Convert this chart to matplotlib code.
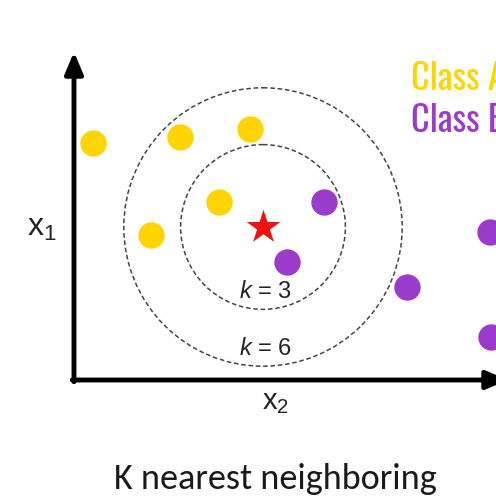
import numpy as np
import matplotlib.pyplot as plt
from matplotlib.patches import Circle

plt.rcParams['mathtext.fontset'] = 'custom'
plt.rcParams['mathtext.rm'] = 'Liberation Sans'
plt.rcParams['mathtext.it'] = 'Liberation Sans:italic'

# data (pixel-like units of the drawing)
class_a_x = [93, 180, 250, 219, 151]
class_a_y = [143, 137, 129, 202, 235]
class_b_x = [324, 287, 407, 490, 491]
class_b_y = [202, 262, 287, 232, 337]
query = (263, 227)
k_values = [3, 6]
legend_labels = ['Class A', 'Class B']

yellow = '#FFD400'
purple = '#9A3BCB'

fig = plt.figure(figsize=(4.96, 4.99), dpi=100)
ax = fig.add_axes([0, 0, 1, 1])
ax.set_xlim(0, 496)
ax.set_ylim(499, 0)
ax.axis('off')

# axes with arrows
arrow = dict(arrowstyle='-|>,head_length=1.3,head_width=0.55',
             lw=3.5, color='black', shrinkA=0, shrinkB=0)
ax.annotate('', xy=(74, 52), xytext=(74, 381.7), arrowprops=arrow,
            annotation_clip=False)
ax.annotate('', xy=(508, 380), xytext=(72.3, 380), arrowprops=arrow,
            annotation_clip=False)

# k-neighbourhood circles: radius between k-th and (k+1)-th nearest point
pts = np.column_stack([class_a_x + class_b_x, class_a_y + class_b_y])
d = np.sort(np.hypot(pts[:, 0] - query[0], pts[:, 1] - query[1]))
for k in k_values:
    r = (d[k - 1] + d[k]) / 2
    ax.add_patch(Circle(query, r, fill=False, ec='#444444', lw=1.1,
                        ls=(0, (3, 1.8))))

ax.scatter(class_a_x, class_a_y, s=360, color=yellow, lw=0, zorder=3)
ax.scatter(class_b_x, class_b_y, s=360, color=purple, lw=0, zorder=3)
ax.scatter([query[0]], [query[1]], s=650, marker='*', color='#EE1111',
           lw=0, zorder=4)

ax.text(265, 292, '$k$ = 3', fontsize=17, ha='center', va='center',
        family='Liberation Sans', color='#222222')
ax.text(265, 349, '$k$ = 6', fontsize=17, ha='center', va='center',
        family='Liberation Sans', color='#222222')

ax.text(27, 228, r'x$_1$', fontsize=23, ha='left', va='center',
        family='Liberation Sans', color='#222222')
ax.text(262, 402, r'x$_2$', fontsize=21, ha='left', va='center',
        family='Liberation Sans', color='#222222')

ax.text(411, 90, legend_labels[0], fontsize=26, color=yellow, ha='left',
        va='baseline', family='Oswald')
ax.text(411, 132, legend_labels[1], fontsize=26, color=purple, ha='left',
        va='baseline', family='Oswald')

ax.text(275, 489, 'K nearest neighboring', fontsize=26, ha='center',
        va='baseline', family='Carlito', color='#1a1a1a')

fig.savefig('out.png', dpi=100)
